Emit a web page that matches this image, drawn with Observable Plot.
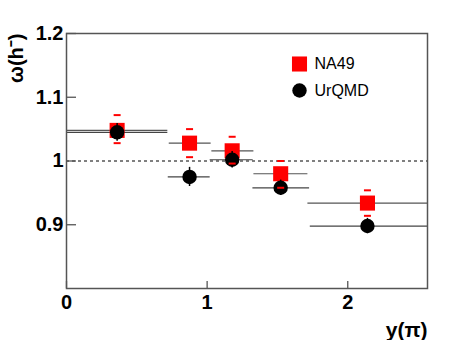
<!DOCTYPE html>
<html>
<head>
<meta charset="utf-8">
<script src="https://cdn.jsdelivr.net/npm/d3@7"></script>
<script src="https://cdn.jsdelivr.net/npm/@observablehq/plot@0.6"></script>
<style>
  html, body { margin: 0; padding: 0; background: white; }
</style>
</head>
<body>
<div id="chart"></div>
<script>
// NA49 data (red squares)
const na49X = [0.36, 0.875, 1.178, 1.523, 2.14];
const na49Y = [1.048, 1.028, 1.016, 0.980, 0.934];
const na49SysHi = [1.072, 1.050, 1.038, 1.000, 0.954];
const na49SysLo = [1.028, 1.006, 0.996, 0.958, 0.914];
const na49BinLo = [0.0, 0.727, 1.03, 1.329, 1.713];
const na49BinHi = [0.717, 1.025, 1.329, 1.713, 2.567];

// UrQMD data (black circles)
const urqmdX = [0.36, 0.875, 1.178, 1.523, 2.14];
const urqmdY = [1.045, 0.975, 1.002, 0.958, 0.898];
const urqmdErr = [0.014, 0.015, 0.013, 0.012, 0.012];
const urqmdBinLo = [0.0, 0.72, 1.018, 1.322, 1.73];
const urqmdBinHi = [0.717, 1.018, 1.324, 1.725, 2.567];

const xTicks = [0, 1, 2];
const yTicks = [0.9, 1, 1.1, 1.2];
const legendLabels = ["NA49", "UrQMD"];
const yTitle = "ω(h⁻)";
const xTitle = "y(π)";

const na49 = na49X.map((x, i) => ({x, y: na49Y[i], hi: na49SysHi[i], lo: na49SysLo[i], x1: na49BinLo[i], x2: na49BinHi[i]}));
const urqmd = urqmdX.map((x, i) => ({x, y: urqmdY[i], y1: urqmdY[i] - urqmdErr[i], y2: urqmdY[i] + urqmdErr[i], x1: urqmdBinLo[i], x2: urqmdBinHi[i]}));

const dash = {
  draw(ctx, size) {
    const w = 3.5, h = 1;
    ctx.moveTo(-w, -h); ctx.lineTo(w, -h); ctx.lineTo(w, h); ctx.lineTo(-w, h); ctx.closePath();
  }
};

const font = "'Liberation Sans', Arial, Helvetica, sans-serif";

const chart = Plot.plot({
  width: 474,
  height: 340,
  marginLeft: 66,
  marginRight: 47,
  marginTop: 33,
  marginBottom: 52,
  style: {fontFamily: font, background: "white", color: "black"},
  x: {domain: [0, 2.567]},
  y: {domain: [0.8, 1.2]},
  marks: [
    Plot.ruleY([1], {stroke: "black", strokeWidth: 1, strokeDasharray: "3,3"}),
    // horizontal bin lines
    Plot.link(na49, {x1: "x1", x2: "x2", y1: "y", y2: "y", stroke: "#555", strokeWidth: 1.2}),
    Plot.link(urqmd, {x1: "x1", x2: "x2", y1: "y", y2: "y", stroke: "#444", strokeWidth: 1.2}),
    Plot.dot(na49, {x: "x", y: "y", symbol: "square", r: 8.5, fill: "#ff0000", stroke: null}),
    Plot.dot(urqmd, {x: "x", y: "y", symbol: "circle", r: 7.2, fill: "black", stroke: null}),
    Plot.ruleX(urqmd, {x: "x", y1: "y1", y2: "y2", stroke: "black", strokeWidth: 1.5}),
    Plot.dot(na49, {x: "x", y: "hi", symbol: dash, fill: "#ff0000", stroke: null}),
    Plot.dot(na49, {x: "x", y: "lo", symbol: dash, fill: "#ff0000", stroke: null}),
    Plot.frame({stroke: "#555", strokeWidth: 1.5}),
    // axes: inward ticks
    Plot.axisY(yTicks, {tickSize: -10, tickFormat: () => "", label: null, stroke: "#555", strokeWidth: 1.3}),
    Plot.axisY(yTicks, {tickSize: 0, tickPadding: 3, tickFormat: d => String(d), label: null, fontSize: 20, fontWeight: "bold"}),
    Plot.axisX(xTicks, {tickSize: -7, tickFormat: () => "", label: null, stroke: "#555", strokeWidth: 1.3}),
    Plot.axisX(xTicks, {tickSize: 0, tickPadding: 6, tickFormat: d => String(d), label: null, fontSize: 20, fontWeight: "bold"}),
    // titles
    Plot.text([yTitle], {frameAnchor: "top-left", dx: -50, rotate: -90, textAnchor: "end", lineAnchor: "middle", fontSize: 20, fontWeight: "bold"}),
    Plot.text([xTitle], {frameAnchor: "bottom-right", dy: 48, textAnchor: "end", lineAnchor: "bottom", fontSize: 21, fontWeight: "bold"}),
    // legend
    Plot.dot([legendLabels[0]], {frameAnchor: "top-left", dx: 233, dy: 30.5, symbol: "square", r: 8.5, fill: "#ff0000", stroke: null}),
    Plot.dot([legendLabels[1]], {frameAnchor: "top-left", dx: 233, dy: 57, symbol: "circle", r: 7.2, fill: "black", stroke: null}),
    Plot.text([legendLabels[0]], {text: d => d, frameAnchor: "top-left", dx: 248, dy: 30.5, textAnchor: "start", lineAnchor: "middle", fontSize: 16}),
    Plot.text([legendLabels[1]], {text: d => d, frameAnchor: "top-left", dx: 248, dy: 57, textAnchor: "start", lineAnchor: "middle", fontSize: 16})
  ]
});

document.getElementById("chart").appendChild(chart);
</script>
</body>
</html>
